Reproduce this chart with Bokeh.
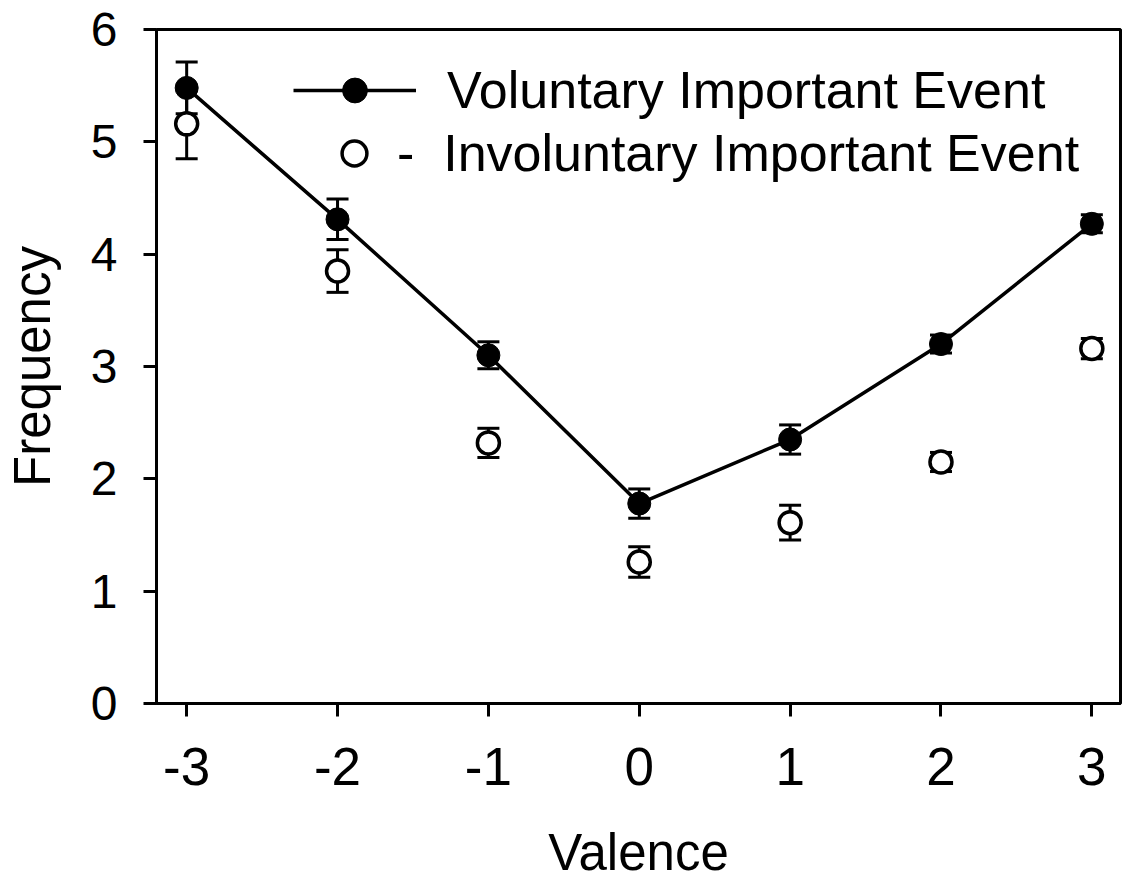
from bokeh.plotting import figure
from bokeh.models import (ColumnDataSource, Whisker, TeeHead, Legend, LegendItem,
                          FixedTicker, Range1d)
from bokeh.embed import file_html
from bokeh.resources import INLINE

# ---- data ----
valence = [-3, -2, -1, 0, 1, 2, 3]
vol_mean = [5.48, 4.31, 3.10, 1.78, 2.35, 3.20, 4.27]
vol_err = [0.23, 0.18, 0.12, 0.13, 0.13, 0.08, 0.08]
inv_mean = [5.16, 3.85, 2.32, 1.26, 1.61, 2.15, 3.16]
inv_err = [0.31, 0.19, 0.13, 0.135, 0.155, 0.085, 0.09]
x_ticks = [-3, -2, -1, 0, 1, 2, 3]
x_tick_labels = ["-3", "-2", "-1", "0", "1", "2", "3"]
y_ticks = [0, 1, 2, 3, 4, 5, 6]
label_vol = "Voluntary Important Event"
label_inv = "-  Involuntary Important Event"

FONT = "Liberation Sans"

vol = ColumnDataSource(dict(x=valence, y=vol_mean,
                            lo=[m - e for m, e in zip(vol_mean, vol_err)],
                            hi=[m + e for m, e in zip(vol_mean, vol_err)]))
inv = ColumnDataSource(dict(x=valence, y=inv_mean,
                            lo=[m - e for m, e in zip(inv_mean, inv_err)],
                            hi=[m + e for m, e in zip(inv_mean, inv_err)]))

p = figure(width=1124, height=886, output_backend="svg", toolbar_location=None,
           x_range=Range1d(-3.2, 3.19), y_range=Range1d(0, 6),
           min_border_left=156, min_border_right=4, min_border_top=29,
           min_border_bottom=183)
p.frame_width = 964
p.frame_height = 674

p.xgrid.visible = False
p.ygrid.visible = False
p.outline_line_color = "black"
p.outline_line_width = 3
p.background_fill_color = "white"
p.border_fill_color = "white"

for ax in (p.xaxis[0], p.yaxis[0]):
    ax.axis_line_width = 3
    ax.axis_line_color = "black"
    ax.major_tick_line_width = 3
    ax.major_tick_out = 13
    ax.major_tick_in = 0
    ax.minor_tick_line_color = None
    ax.major_label_text_font = FONT
    ax.major_label_text_color = "black"
    ax.axis_label_text_font = FONT
    ax.axis_label_text_font_style = "normal"
    ax.axis_label_text_color = "black"
    ax.axis_label_text_font_size = "51px"

p.xaxis.ticker = FixedTicker(ticks=x_ticks)
p.xaxis.major_label_overrides = {t: s for t, s in zip(x_ticks, x_tick_labels)}
p.yaxis.ticker = FixedTicker(ticks=y_ticks)
p.xaxis.major_label_text_font_size = "53px"
p.yaxis.major_label_text_font_size = "48px"
p.xaxis.major_label_standoff = 31
p.yaxis.major_label_standoff = 26
p.xaxis.axis_label = "Valence"
p.yaxis.axis_label = "Frequency"
p.xaxis.axis_label_standoff = 36
p.yaxis.axis_label_standoff = 27

# error bars
for src in (vol, inv):
    w = Whisker(source=src, base="x", upper="hi", lower="lo",
                line_width=3, line_color="black",
                upper_head=TeeHead(size=22, line_width=3, line_color="black"),
                lower_head=TeeHead(size=22, line_width=3, line_color="black"))
    p.add_layout(w)

line_r = p.line("x", "y", source=vol, line_width=3.5, line_color="black")
inv_r = p.scatter("x", "y", source=inv, marker="circle", size=22,
                  fill_color="white", line_color="black", line_width=3.5)
vol_r = p.scatter("x", "y", source=vol, marker="circle", size=23,
                  fill_color="black", line_color="black", line_width=1)

common = dict(border_line_alpha=0, background_fill_alpha=0, padding=0, margin=0,
              label_text_font=FONT, label_text_font_size="52px",
              label_text_color="black", glyph_height=62, label_height=62,
              spacing=0)
leg1 = Legend(items=[LegendItem(label=label_vol, renderers=[line_r, vol_r])],
              location=(137, 582), glyph_width=123, label_standoff=31, **common)
leg2 = Legend(items=[LegendItem(label=label_inv, renderers=[inv_r])],
              location=(167, 519), glyph_width=62, label_standoff=12, **common)
p.add_layout(leg1, "center")
p.add_layout(leg2, "center")

open("out.html", "w").write(file_html(p, INLINE))
